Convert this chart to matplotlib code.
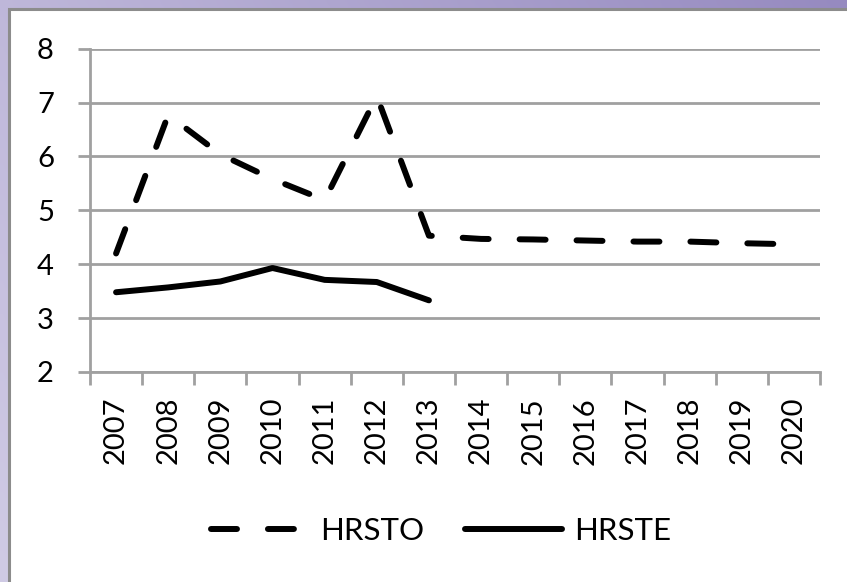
import numpy as np
import matplotlib
matplotlib.use("Agg")
import matplotlib.pyplot as plt
from matplotlib.patches import Rectangle

plt.rcParams['font.family'] = ['Lato', 'DejaVu Sans']
plt.rcParams['lines.scale_dashes'] = False

years = ['2007', '2008', '2009', '2010', '2011', '2012', '2013', '2014',
         '2015', '2016', '2017', '2018', '2019', '2020']
hrsto = [4.2, 6.77, 6.04, 5.58, 5.19, 7.12, 4.53, 4.47, 4.46, 4.44, 4.42, 4.42, 4.39, 4.37]
hrste = [3.48, 3.57, 3.68, 3.93, 3.71, 3.67, 3.33]

W, H = 847, 582
fig = plt.figure(figsize=(W / 100, H / 100), dpi=100)

# purple gradient background
bg = fig.add_axes([0, 0, 1, 1], zorder=-10)
gx = np.linspace(0, 1, 200)
gy = np.linspace(0, 1, 200)
GX, GY = np.meshgrid(gx, gy)
t = np.clip(0.7 * GX + 0.3 * GY, 0, 1)
c0 = np.array([208, 203, 229]) / 255
c1 = np.array([150, 138, 192]) / 255
img = c0[None, None, :] * (1 - t[..., None]) + c1[None, None, :] * t[..., None]
bg.imshow(img, extent=[0, 1, 0, 1], aspect='auto', origin='lower')
bg.set_xlim(0, 1)
bg.set_ylim(0, 1)
bg.axis('off')

# white chart box
box = Rectangle((9 / W, -0.05), 1.05, 1 - 9 / H + 0.05, transform=fig.transFigure,
                facecolor='white', edgecolor='#8c8c8c', linewidth=2.2, zorder=-5)
fig.patches.append(box)

ax = fig.add_axes([90 / W, 1 - 372 / H, (820 - 90) / W, (372 - 48.7) / H])
ax.patch.set_alpha(0)

x = np.arange(len(years))
ax.plot(x, hrsto, color='black', linewidth=4.3, linestyle=(0, (18.7, 22.3)),
        dash_capstyle='round', solid_capstyle='round', label='HRSTO', zorder=3)
ax.plot(x[:len(hrste)], hrste, color='black', linewidth=4.3,
        solid_capstyle='round', solid_joinstyle='round', label='HRSTE', zorder=3)

ax.set_xlim(-0.5, len(years) - 0.5)
ax.set_ylim(2, 8)
ax.set_yticks(range(2, 9))
ax.yaxis.grid(True, color='#a0a0a0', linewidth=2)
ax.set_axisbelow(True)

ax.set_xticks(np.arange(-0.5, len(years), 1.0))
ax.set_xticklabels([])
ax.set_xticks(x, minor=True)
ax.set_xticklabels(years, minor=True, rotation=90, fontsize=21)
ax.tick_params(axis='x', which='minor', length=0, pad=18)
ax.tick_params(axis='x', which='major', length=9, width=2, color='#a0a0a0')
ax.tick_params(axis='y', length=9, width=2, color='#a0a0a0', labelsize=21, pad=17)

for s in ['top', 'right']:
    ax.spines[s].set_visible(False)
for s in ['left', 'bottom']:
    ax.spines[s].set_color('#a0a0a0')
    ax.spines[s].set_linewidth(2)

leg = fig.legend(loc='center', bbox_to_anchor=(441 / W, 1 - 531 / H), ncol=2,
                 frameon=False, fontsize=22.5, handlelength=3.1, handletextpad=0.4,
                 columnspacing=1.3)

fig.savefig('out.png', dpi=100)
